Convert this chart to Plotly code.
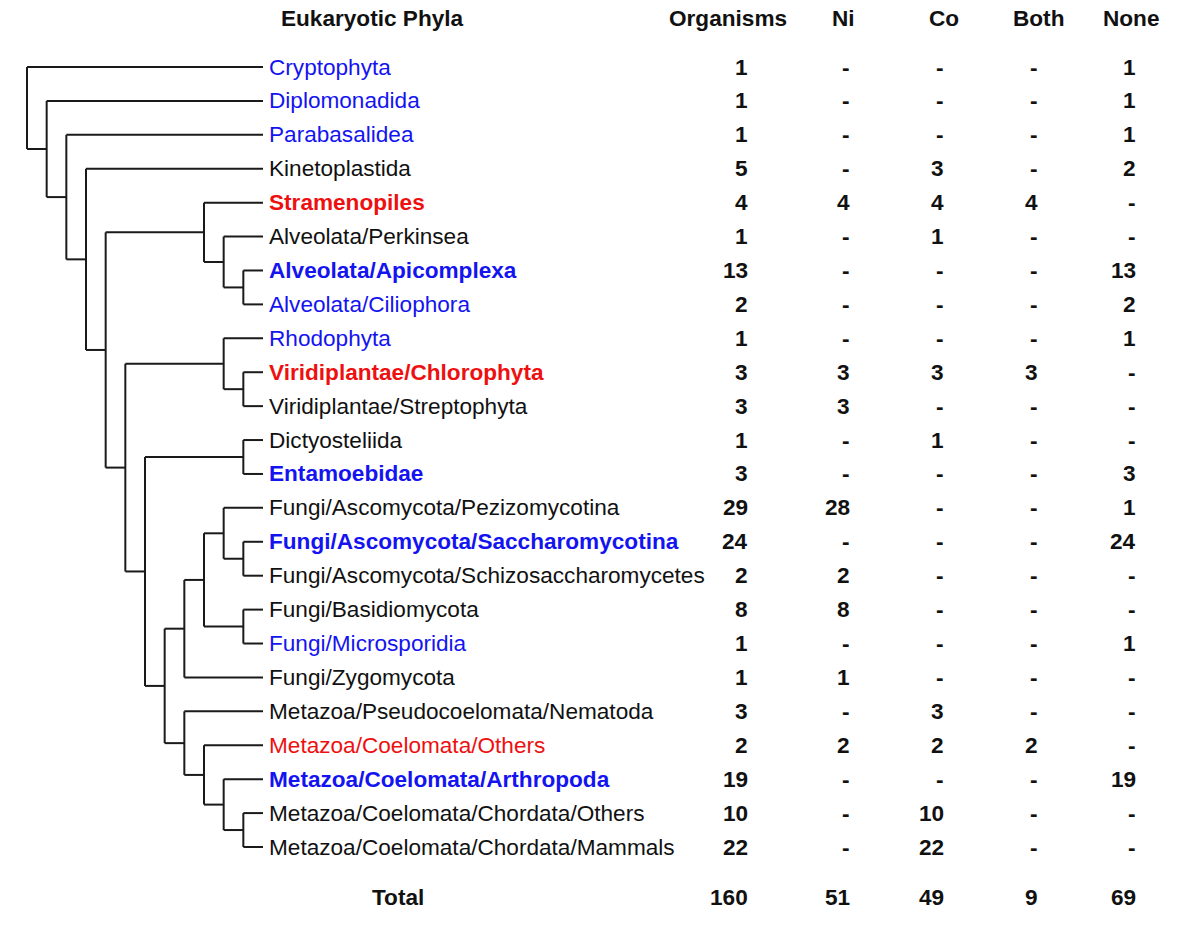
import plotly.graph_objects as go

# ---------------- data ----------------
phyla = [
    "Cryptophyta", "Diplomonadida", "Parabasalidea", "Kinetoplastida",
    "Stramenopiles", "Alveolata/Perkinsea", "Alveolata/Apicomplexa",
    "Alveolata/Ciliophora", "Rhodophyta", "Viridiplantae/Chlorophyta",
    "Viridiplantae/Streptophyta", "Dictyosteliida", "Entamoebidae",
    "Fungi/Ascomycota/Pezizomycotina", "Fungi/Ascomycota/Saccharomycotina",
    "Fungi/Ascomycota/Schizosaccharomycetes", "Fungi/Basidiomycota",
    "Fungi/Microsporidia", "Fungi/Zygomycota",
    "Metazoa/Pseudocoelomata/Nematoda", "Metazoa/Coelomata/Others",
    "Metazoa/Coelomata/Arthropoda", "Metazoa/Coelomata/Chordata/Others",
    "Metazoa/Coelomata/Chordata/Mammals",
]
# label class: "b" blue, "r" red, "k" black
label_color = ["b", "b", "b", "k", "r", "k", "b", "b", "b", "r", "k", "k", "b",
               "k", "b", "k", "k", "b", "k", "k", "r", "b", "k", "k"]
label_bold = [0, 0, 0, 0, 1, 0, 1, 0, 0, 1, 0, 0, 1,
              0, 1, 0, 0, 0, 0, 0, 0, 1, 0, 0]

organisms = [1, 1, 1, 5, 4, 1, 13, 2, 1, 3, 3, 1, 3, 29, 24, 2, 8, 1, 1, 3, 2, 19, 10, 22]
ni =        [None, None, None, None, 4, None, None, None, None, 3, 3, None, None,
             28, None, 2, 8, None, 1, None, 2, None, None, None]
co =        [None, None, None, 3, 4, 1, None, None, None, 3, None, 1, None,
             None, None, None, None, None, None, 3, 2, None, 10, 22]
both =      [None, None, None, None, 4, None, None, None, None, 3, None, None, None,
             None, None, None, None, None, None, None, 2, None, None, None]
none_ =     [1, 1, 1, 2, None, None, 13, 2, 1, None, None, None, 3,
             1, 24, None, None, 1, None, None, None, 19, None, None]

headers = ["Organisms", "Ni", "Co", "Both", "None"]
totals = [160, 51, 49, 9, 69]

# tree topology (leaf indices into phyla)
tree = (0, (1, (2, (3, (
    (4, (5, (6, 7))),
    ((8, (9, 10)),
     ((11, 12),
      ((((13, (14, 15)), (16, 17)), 18),
       (19, (20, (21, (22, 23)))))))
)))))

# ---------------- layout constants ----------------
W, H = 1200, 939
LEAF_X = 263
STEP = (263 - 27) / 12
ROW0 = 67
ROW_STEP = (847 - 67) / 23
LABEL_X = 267
COL_RIGHT = [750, 852, 946, 1040, 1138]
HEAD_X = [728, 843, 944, 1038, 1131]
HEAD_Y = 18
TOTAL_Y = 897
FONT = "Liberation Sans, Arial, sans-serif"
FS = 22.6
COLORS = {"b": "#1414f0", "r": "#ee1010", "k": "#111111"}


def row_y(i):
    return ROW0 + i * ROW_STEP


xs, ys = [], []


def build(node):
    if isinstance(node, int):
        return row_y(node), 0
    (ya, ha), (yb, hb) = build(node[0]), build(node[1])
    h = max(ha, hb) + 1
    x = LEAF_X - h * STEP
    xs.extend([x, x, None]); ys.extend([ya, yb, None])
    for yc, hc in ((ya, ha), (yb, hb)):
        xs.extend([x, LEAF_X - hc * STEP, None]); ys.extend([yc, yc, None])
    return (ya + yb) / 2, h


build(tree)

fig = go.Figure()
fig.add_trace(go.Scatter(x=xs, y=ys, mode="lines",
                         line=dict(color="#1a1a1a", width=2),
                         hoverinfo="skip", showlegend=False))

ann = []
ann.append(dict(x=372, y=HEAD_Y, text="<b>Eukaryotic Phyla</b>", xanchor="center"))
for hx, htxt in zip(HEAD_X, headers):
    ann.append(dict(x=hx, y=HEAD_Y, text=f"<b>{htxt}</b>", xanchor="center"))

cols = [organisms, ni, co, both, none_]
for i, name in enumerate(phyla):
    t = f"<b>{name}</b>" if label_bold[i] else name
    ann.append(dict(x=LABEL_X, y=row_y(i), text=t, xanchor="left",
                    font=dict(color=COLORS[label_color[i]], size=FS, family=FONT)))
    for c, col in enumerate(cols):
        v = col[i]
        ann.append(dict(x=COL_RIGHT[c], y=row_y(i),
                        text=f"<b>{'-' if v is None else v}</b>", xanchor="right"))

ann.append(dict(x=398, y=TOTAL_Y, text="<b>Total</b>", xanchor="center"))
for c, v in enumerate(totals):
    ann.append(dict(x=COL_RIGHT[c], y=TOTAL_Y, text=f"<b>{v}</b>", xanchor="right"))

for a in ann:
    a.setdefault("font", dict(color="#111111", size=FS, family=FONT))
    a.update(xref="x", yref="y", yanchor="middle", showarrow=False)

fig.update_layout(
    width=W, height=H, margin=dict(l=0, r=0, t=0, b=0),
    paper_bgcolor="white", plot_bgcolor="white",
    xaxis=dict(range=[0, W], visible=False, fixedrange=True),
    yaxis=dict(range=[H, 0], visible=False, fixedrange=True),
    annotations=ann, showlegend=False,
)

fig.write_html("out.html", config={"displayModeBar": False},
               post_script="document.body.style.margin='0';")
